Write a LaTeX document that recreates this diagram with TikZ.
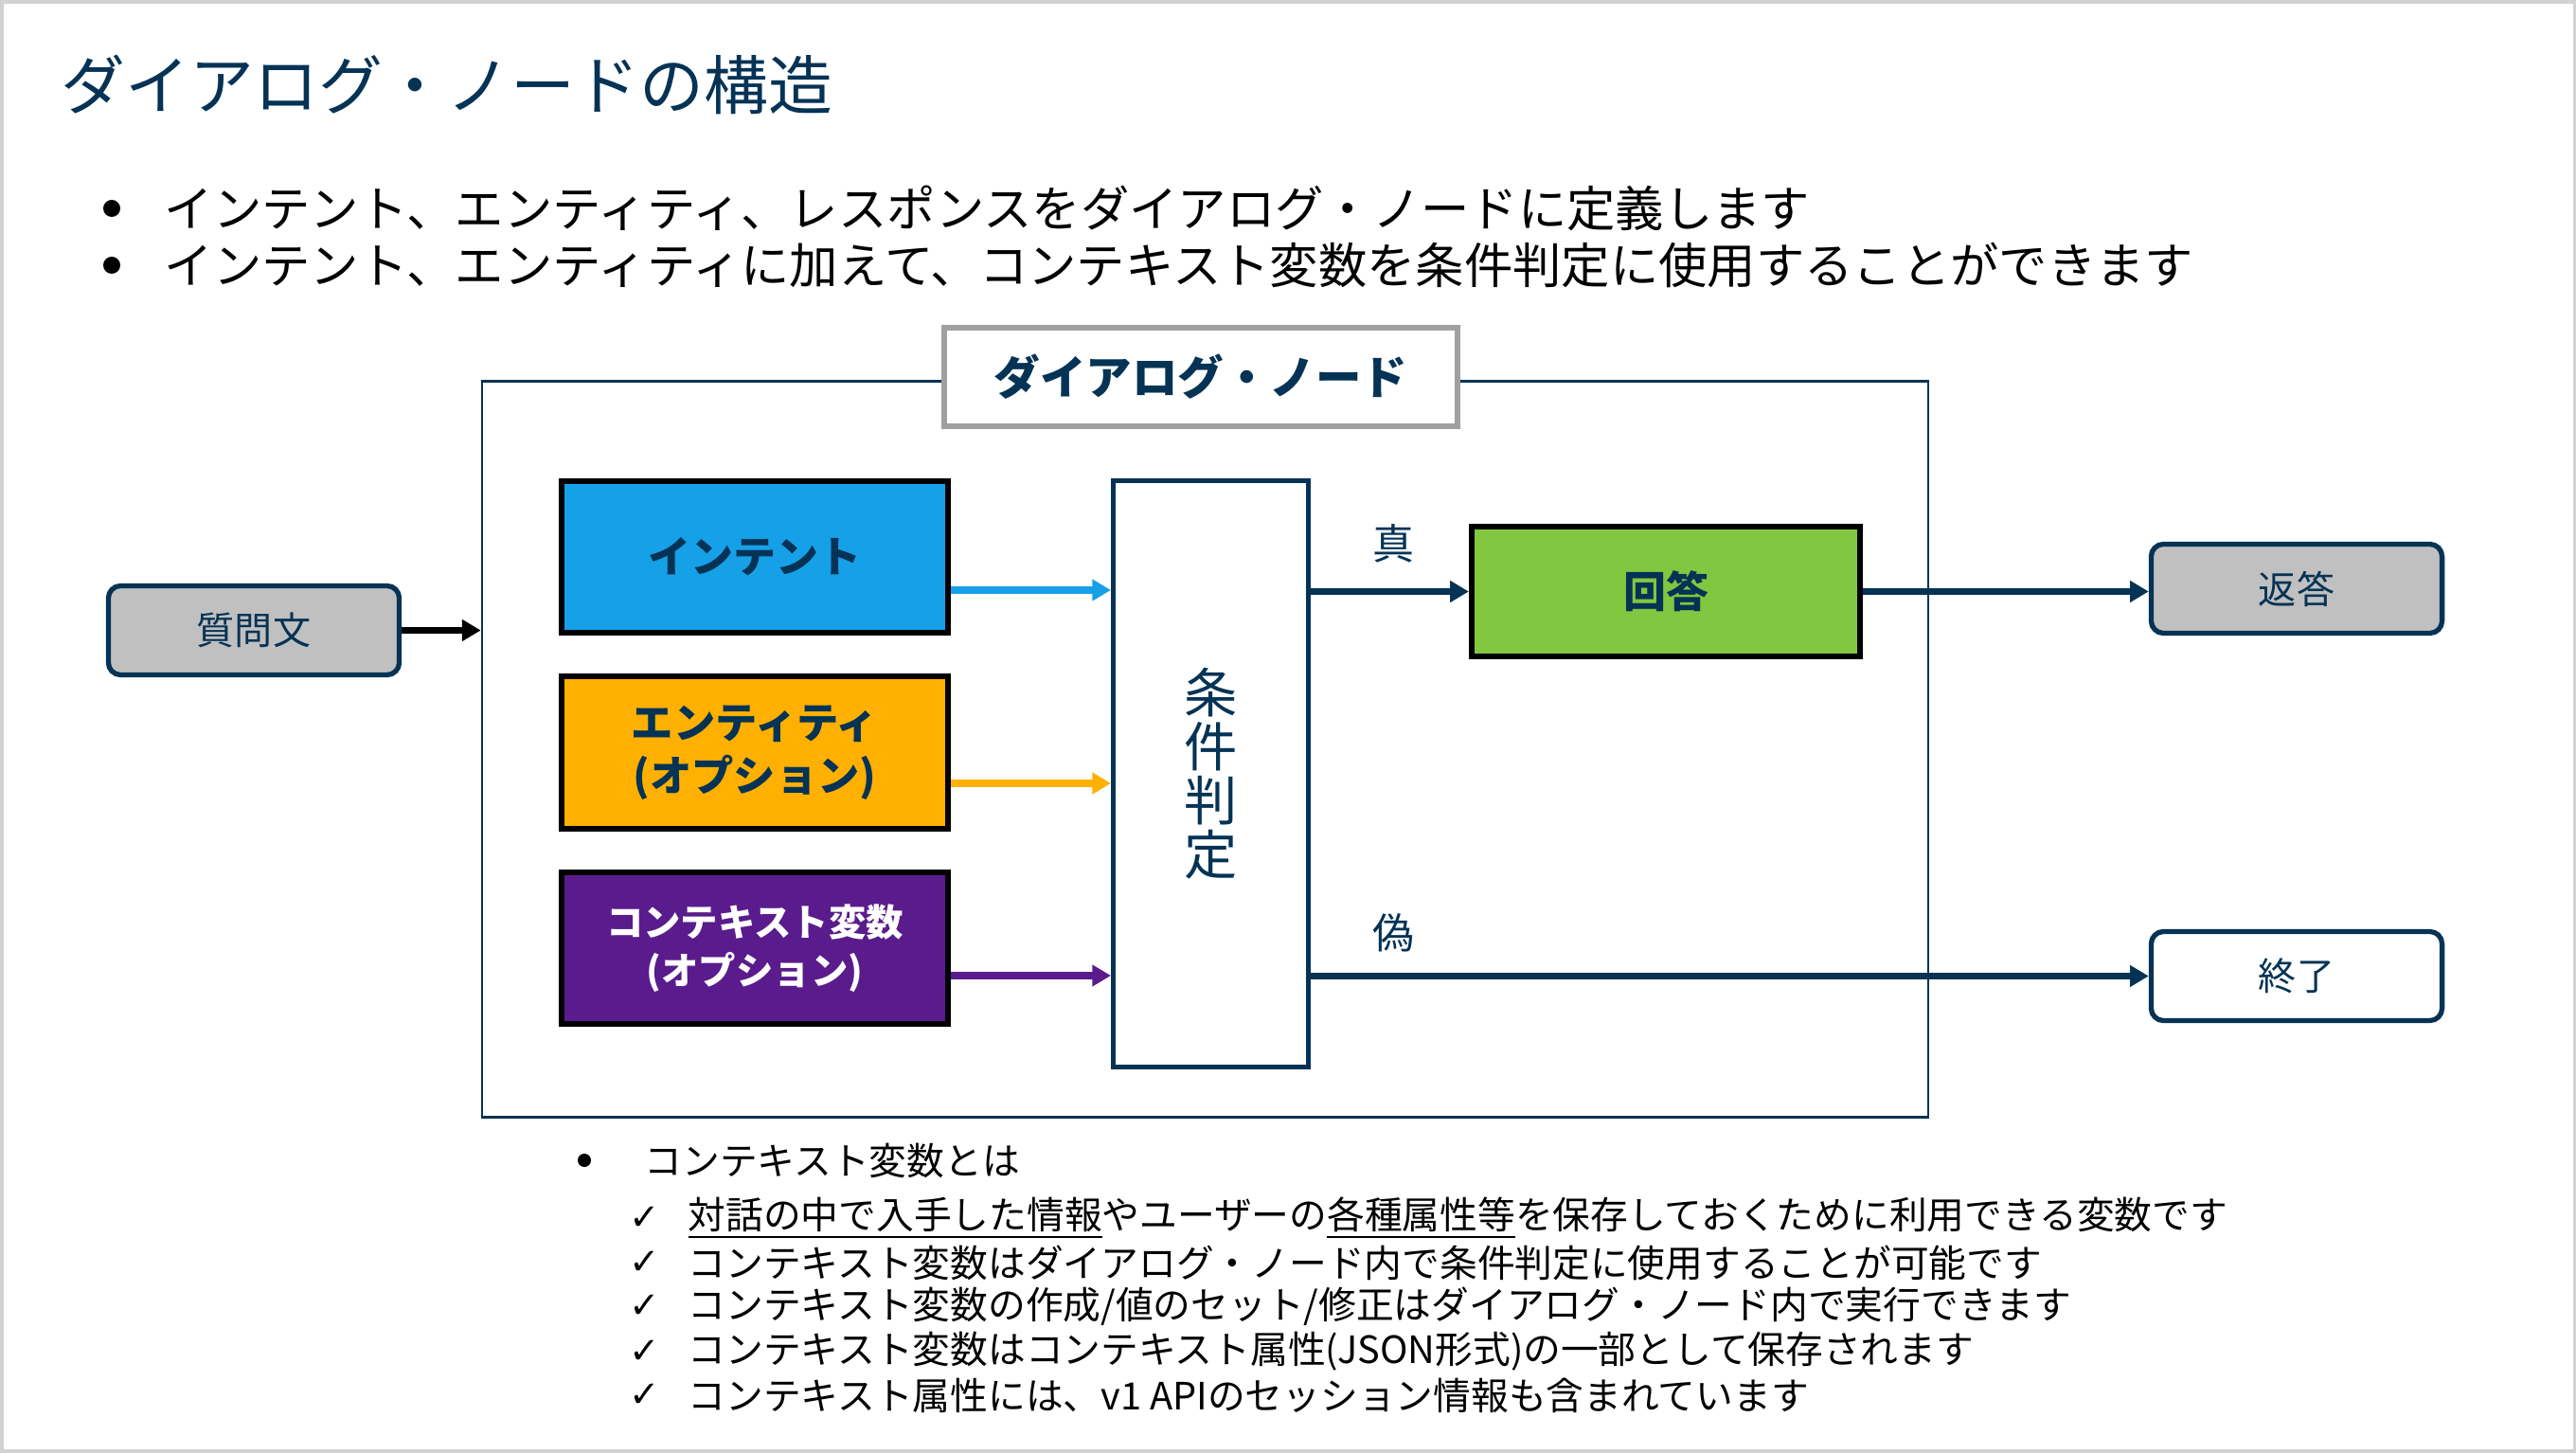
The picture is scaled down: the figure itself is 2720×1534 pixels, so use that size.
\documentclass[tikz,border=0pt]{standalone}
\usepackage{fontspec}
\setmainfont{Noto Sans CJK JP}
\newfontfamily\dejavu{DejaVu Sans}
\usetikzlibrary{arrows.meta}
\definecolor{dnavy}{RGB}{5,51,85}
\definecolor{intentblue}{RGB}{22,160,232}
\definecolor{entityamber}{RGB}{255,176,0}
\definecolor{ctxpurple}{RGB}{90,27,140}
\definecolor{answergreen}{RGB}{129,199,64}
\definecolor{boxgray}{RGB}{192,192,192}
\definecolor{labelgray}{RGB}{160,160,160}
\tikzset{flow/.style={line width=2pt, -{Triangle[length=5.6pt,width=6.2pt]}},
         colbox/.style={draw=black, line width=1.7pt, minimum width=4.08cm,
         minimum height=1.6cm, align=center, text=dnavy,
         font=\bfseries\fontsize{12.8}{16}\selectfont},
         endbox/.style={draw=dnavy, line width=1.5pt, rounded corners=3.7pt,
         minimum width=3.07cm, minimum height=0.94cm, text=dnavy,
         font=\fontsize{11.4}{14}\selectfont},
         txt/.style={inner sep=0pt, anchor=west},
         dot/.style={circle, fill=black, inner sep=0pt, minimum size=#1},
         dot/.default={0.18cm}}

\begin{document}
\begin{tikzpicture}[x=0.01cm,y=-0.01cm]
        \useasboundingbox (0,0) rectangle (2720,1534);
        \draw[gray!35, line width=2pt] (0,0) rectangle (2720,1534);

        % Title and bullets
        \node[txt, text=dnavy, font=\fontsize{19.3}{23}\selectfont] (title) at (64,89) {ダイアログ・ノードの構造};
        \node[dot] (b1) at (118,220) {};
        \node[dot] (b2) at (118,280) {};
        \node[txt, font=\fontsize{14.6}{17}\selectfont] (l1) at (173,220) {インテント、エンティティ、レスポンスをダイアログ・ノードに定義します};
        \node[txt, font=\fontsize{14.6}{17}\selectfont] (l2) at (173,280) {インテント、エンティティに加えて、コンテキスト変数を条件判定に使用することができます};

        % Dialog node frame
        \node[draw=dnavy, line width=0.8pt, minimum width=15.26cm, minimum height=7.77cm] (frame) at (1272.5,791) {};
        \node[draw=labelgray, fill=white, line width=1.7pt, minimum width=5.42cm, minimum height=1.04cm,
              text=dnavy, font=\bfseries\fontsize{13.8}{17}\selectfont] (label) at (1268,398) {ダイアログ・ノード};

        \node[colbox, fill=intentblue] (intent) at (797,588) {インテント};
        \node[colbox, fill=entityamber, font=\bfseries\fontsize{12.6}{16}\selectfont] (entity) at (797,794.5) {エンティティ\\(オプション)};
        \node[colbox, fill=ctxpurple, text=white, font=\bfseries\fontsize{11.2}{14.5}\selectfont] (context) at (797,1001) {コンテキスト変数\\(オプション)};

        \node[draw=dnavy, fill=white, line width=1.4pt, minimum width=2.06cm, minimum height=6.19cm,
              align=center, text=dnavy, font=\fontsize{16}{16.2}\selectfont] (cond) at (1278.5,817) {条\\件\\判\\定};

        \node[colbox, fill=answergreen, minimum height=1.37cm, minimum width=4.10cm] (answer) at (1759,624.5) {回答};

        % Outside boxes
        \node[endbox, fill=boxgray] (question) at (268,665.5) {質問文};
        \node[endbox, fill=boxgray] (reply) at (2425,621.5) {返答};
        \node[endbox, fill=white] (finish) at (2425,1030.5) {終了};

        % Arrows
        \path ([yshift=-3.5mm]intent.east) coordinate (ia);
        \path ([yshift=-3.25mm]entity.east) coordinate (ea);
        \path ([yshift=-2.9mm]context.east) coordinate (ca);
        \draw[flow, intentblue] (ia) -- (ia -| cond.west);
        \draw[flow, entityamber] (ea) -- (ea -| cond.west);
        \draw[flow, ctxpurple] (ca) -- (ca -| cond.west);
        \draw[flow, black] (question) -- (question -| frame.west);
        \draw[flow, dnavy] (answer.west -| cond.east) -- (answer);
        \draw[flow, dnavy] (answer) -- (answer -| reply.west);
        \draw[flow, dnavy] (finish.west -| cond.east) -- (finish);

        \node[text=dnavy, font=\fontsize{12.5}{15}\selectfont] (true) at (1471,574) {真};
        \node[text=dnavy, font=\fontsize{12.5}{15}\selectfont] (false) at (1471,985) {偽};

        % Notes below
        \node[dot=0.14cm] (b3) at (617,1225) {};
        \node[txt, font=\fontsize{11.3}{14}\selectfont] (n0) at (680,1225) {コンテキスト変数とは};
        \foreach \y/\t [count=\i] in {1286/{\underline{対話の中で入手した情報}やユーザーの\underline{各種属性等}を保存しておくために利用できる変数です},
                          1333/{コンテキスト変数はダイアログ・ノード内で条件判定に使用することが可能です},
                          1379/{コンテキスト変数の作成/値のセット/修正はダイアログ・ノード内で実行できます},
                          1427/{コンテキスト変数はコンテキスト属性(JSON形式)の一部として保存されます},
                          1473/{コンテキスト属性には、v1 APIのセッション情報も含まれています}} {
            \node[font=\dejavu\fontsize{11}{13}\selectfont] (c\i) at (681,\y) {✓};
            \node[txt, font=\fontsize{11.3}{14}\selectfont] (n\i) at (726,\y) {\t};
        }
\end{tikzpicture}
\end{document}
